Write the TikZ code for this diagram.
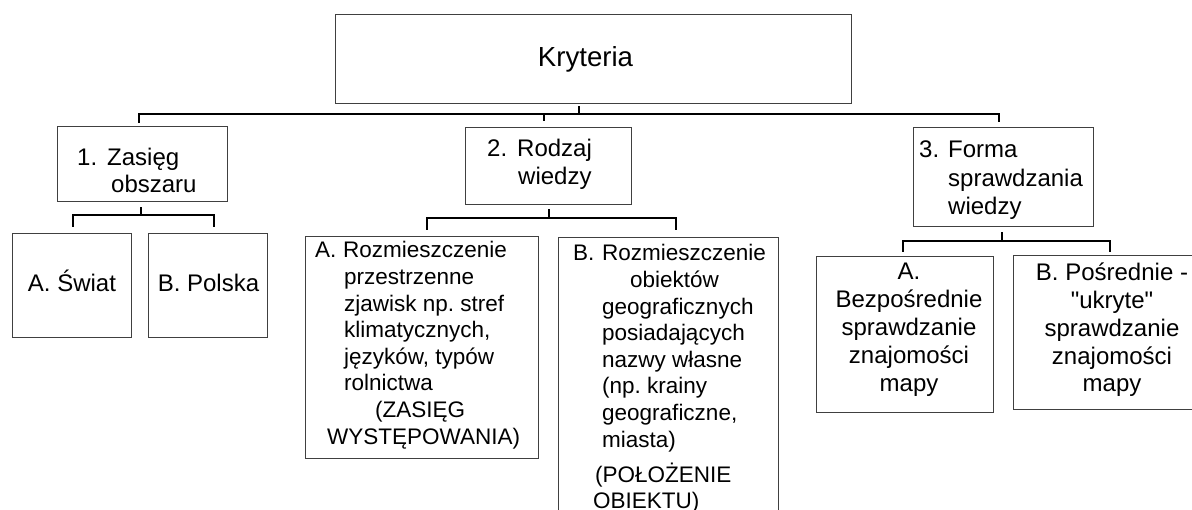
\documentclass[tikz,border=0pt]{standalone}
\usepackage{fontspec}
\setmainfont{Liberation Sans}
\frenchspacing
\begin{document}
\begin{tikzpicture}[x=1pt,y=-1pt,
  box/.style={draw=black!75, line width=1.2pt, fill=white, inner sep=0pt, anchor=north west},
  conn/.style={draw=black, line width=2pt},
  txt/.style={inner sep=0pt, font=\fontsize{24}{28}\selectfont},
  smalltxt/.style={inner sep=0pt, font=\fontsize{22.5}{26.6}\selectfont}]
\useasboundingbox (0,0) rectangle (1192,510);
\clip (0,0) rectangle (1192,510);
\fill[white] (0,0) rectangle (1192,510);

% boxes
\node[box, minimum width=516pt, minimum height=89pt] (k) at (335,14) {};
\node[box, minimum width=170pt, minimum height=75pt] (b1) at (57,126) {};
\node[box, minimum width=119pt, minimum height=104pt] (b1a) at (12,233) {};
\node[box, minimum width=119pt, minimum height=104pt] (b1b) at (148,233) {};
\node[box, minimum width=166pt, minimum height=77pt] (b2) at (465,127) {};
\node[box, minimum width=233pt, minimum height=222pt] (b2a) at (305,236) {};
\node[box, minimum width=220pt, minimum height=300pt] (b2b) at (558,237) {};
\node[box, minimum width=180pt, minimum height=99pt] (b3) at (913,127) {};
\node[box, minimum width=177pt, minimum height=156pt] (b3a) at (816,256) {};
\node[box, minimum width=182pt, minimum height=154pt] (b3b) at (1013,255) {};

% connectors: level 1
\draw[conn] ([xshift=-15pt,yshift=-2pt]k.south) -- ([xshift=-15pt,yshift=-11pt]k.south);
\draw[conn] ([xshift=-4pt,yshift=3pt]b1.north) |- ([xshift=-5pt,yshift=13pt]b3.north) -- ([xshift=-5pt,yshift=5pt]b3.north);
\draw[conn] ([xshift=-5pt,yshift=13pt]b2.north) -- ([xshift=-5pt,yshift=6pt]b2.north);

% connectors: under box 1
\draw[conn] ([xshift=-2pt,yshift=-5pt]b1.south) -- ([xshift=-2pt,yshift=-14pt]b1.south);
\draw[conn] ([xshift=0.5pt,yshift=6pt]b1a.north) |- ([xshift=5.5pt,yshift=18pt]b1b.north) -- ([xshift=5.5pt,yshift=6pt]b1b.north);

% connectors: under box 2
\draw[conn] ([yshift=-4pt]b2.south) -- ([yshift=-14pt]b2.south);
\draw[conn] ([xshift=4.5pt,yshift=6pt]b2a.north) |- ([xshift=7pt,yshift=19pt]b2b.north) -- ([xshift=7pt,yshift=7pt]b2b.north);

% connectors: under box 3
\draw[conn] ([xshift=-2pt,yshift=-5pt]b3.south) -- ([xshift=-2pt,yshift=-15pt]b3.south);
\draw[conn] ([xshift=-2.5pt,yshift=4pt]b3a.north) |- ([xshift=5pt,yshift=14pt]b3b.north) -- ([xshift=5pt,yshift=3pt]b3b.north);

% texts
\node[txt, font=\fontsize{27.6}{33}\selectfont, anchor=base] (tk) at (585.5,67) {Kryteria};

\node[txt, font=\fontsize{24}{27}\selectfont, anchor=base west] (t1) at (77,166)
  {\begin{tabular}[t]{@{}l@{}}\makebox[30pt][l]{1.}Zasięg\\\hspace*{34pt}obszaru\end{tabular}};
\node[txt, anchor=base] (t1a) at (72,292) {A. Świat};
\node[txt, anchor=base] (t1b) at (208.5,292) {B. Polska};

\node[txt, anchor=base west] (t2) at (487,157)
  {\begin{tabular}[t]{@{}l@{}}\makebox[30pt][l]{2.}Rodzaj\\\hspace*{31pt}wiedzy\end{tabular}};

\node[txt, font=\fontsize{24}{28.5}\selectfont, anchor=base west] (t3) at (919,158)
  {\begin{tabular}[t]{@{}l@{}}\makebox[29pt][l]{3.}Forma\\\hspace*{29pt}sprawdzania\\\hspace*{29pt}wiedzy\end{tabular}};

\node[smalltxt, anchor=base west] (t2a) at (315,258)
  {\begin{tabular}[t]{@{}l@{}}\makebox[28pt][l]{A.}Rozmieszczenie\\
   \hspace*{29pt}przestrzenne\\
   \hspace*{29pt}zjawisk np. stref\\
   \hspace*{29pt}klimatycznych,\\
   \hspace*{29pt}języków, typów\\
   \hspace*{29pt}rolnictwa\\
   \hspace*{60pt}(ZASIĘG\\
   \hspace*{12pt}WYSTĘPOWANIA)\end{tabular}};

\node[smalltxt, anchor=base west] (t2b) at (573,261)
  {\begin{tabular}[t]{@{}l@{}}\makebox[29pt][l]{B.}Rozmieszczenie\\
   \hspace*{57pt}obiektów\\
   \hspace*{29pt}geograficznych\\
   \hspace*{29pt}posiadających\\
   \hspace*{29pt}nazwy własne\\
   \hspace*{29pt}(np. krainy\\
   \hspace*{29pt}geograficzne,\\
   \hspace*{29pt}miasta)\\[7.4pt]
   \hspace*{22pt}(POŁOŻENIE\\
   \hspace*{20pt}OBIEKTU)\end{tabular}};

\node[txt, anchor=base] (t3a) at (909,280)
  {\begin{tabular}[t]{@{}c@{}}A.\\Bezpośrednie\\sprawdzanie\\znajomości\\mapy\end{tabular}};

\node[txt, font=\fontsize{24}{27.7}\selectfont, anchor=base] (t3b) at (1112,281)
  {\begin{tabular}[t]{@{}c@{}}B. Pośrednie -\\\textquotedbl ukryte\textquotedbl\\sprawdzanie\\znajomości\\mapy\end{tabular}};
\end{tikzpicture}
\end{document}
